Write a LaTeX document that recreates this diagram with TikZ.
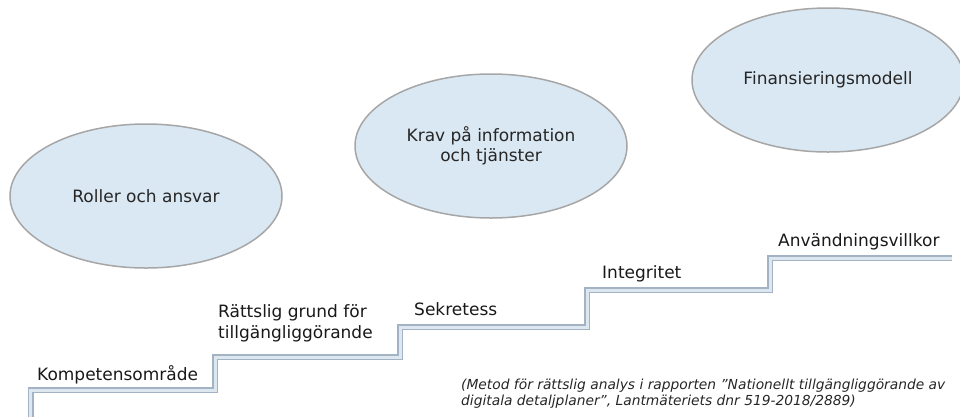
\documentclass[tikz,border=0pt]{standalone}
\usepackage{fontspec}
\setmainfont{DejaVu Sans}
\usepackage{tikz}
\usetikzlibrary{shapes,positioning}
\definecolor{bubblefill}{HTML}{DAE8F3}
\definecolor{bubbleline}{HTML}{A6A6A6}
\definecolor{stairedge}{HTML}{A3B3C3}
\definecolor{stairfill}{HTML}{DDE7EF}

\begin{document}
\begin{tikzpicture}[
    x=1pt, y=-1pt,
    bubble/.style={ellipse, draw=bubbleline, fill=bubblefill, line width=1.5pt,
        minimum width=272pt, minimum height=144pt, inner sep=0pt, align=center,
        font=\fontsize{17}{20}\selectfont, text=black!85},
    steplabel/.style={anchor=base west, inner sep=0pt, align=left,
        font=\fontsize{17}{21}\selectfont, text=black!90},
    note/.style={anchor=base west, inner sep=0pt, align=left,
        font=\itshape\fontsize{13.8}{16}\selectfont, text=black!85},
    stairs/.style={draw=stairedge, double=stairfill, double distance=3pt, line width=1.5pt}
]
    \useasboundingbox (0,0) rectangle (960,416);
    \clip (0,0) rectangle (960,416);

    \node[bubble] (roller) at (146,196) {Roller och ansvar};
    \node[bubble] (krav) at (491,146) {Krav på information\\och tjänster};
    \node[bubble] (finans) at (828,80) {Finansieringsmodell};

    \draw[stairs] (30.5,430) |- (215,390) |- (400,357) |- (587,327) |- (770,290) |- (952,258);

    % multi-line labels sit on the baseline of their last line
    \node[steplabel] (komp) at (37,380) {Kompetensområde};
    \node[steplabel] (ratt) at (218,338) {Rättslig grund för\\tillgängliggörande};
    \node[steplabel] (sekr) at (414,315) {Sekretess};
    \node[steplabel] (integ) at (602,278) {Integritet};
    \node[steplabel] (anv) at (778,246) {Användningsvillkor};

    \node[note] (kalla) at (461,405) {(Metod för rättslig analys i rapporten ”Nationellt tillgängliggörande av\\digitala detaljplaner”, Lantmäteriets dnr 519-2018/2889)};
\end{tikzpicture}
\end{document}
